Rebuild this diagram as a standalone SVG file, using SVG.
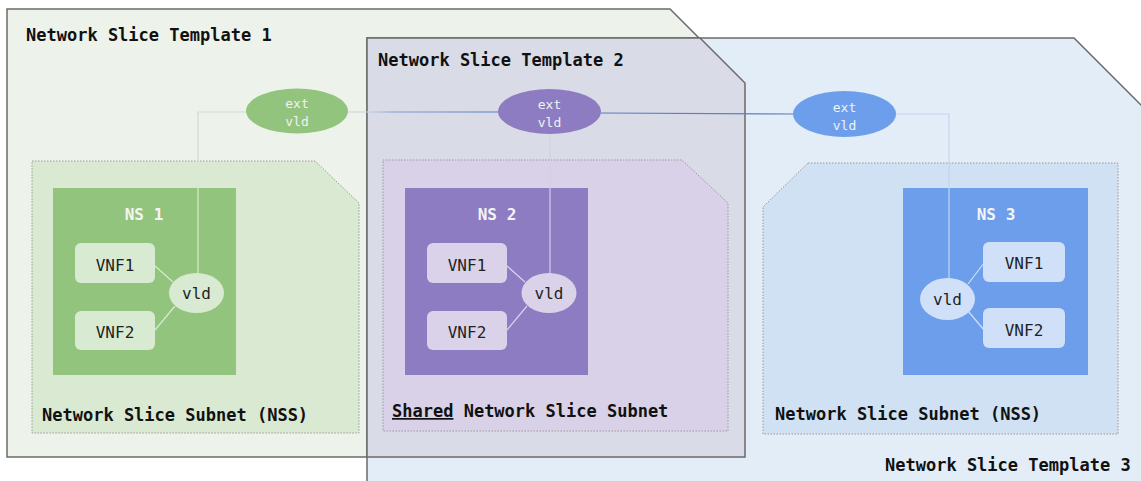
<svg xmlns="http://www.w3.org/2000/svg" width="1141" height="481" viewBox="0 0 1141 481">
<defs>
<style>
.tpl{stroke:#6b6b6b;stroke-width:1.5}
.nss{stroke:#9a9a9a;stroke-width:1;stroke-dasharray:1.5 1.5}
.title{font-family:"DejaVu Sans Mono","Liberation Mono",monospace;font-weight:bold;font-size:17px;fill:#111}
.nslbl{font-family:"DejaVu Sans Mono","Liberation Mono",monospace;font-weight:bold;font-size:16px;fill:#f4f4f4;text-anchor:middle}
.t{font-family:"DejaVu Sans Mono","Liberation Mono",monospace;font-size:16px;fill:#222;text-anchor:middle}
.ext{font-family:"DejaVu Sans Mono","Liberation Mono",monospace;font-size:13px;fill:#eef2f4;text-anchor:middle}
.ln{fill:none;stroke-width:1.2}
</style>
<linearGradient id="g12" gradientUnits="userSpaceOnUse" x1="348" y1="0" x2="498" y2="0">
<stop offset="0" stop-color="#cdd6dc"/>
<stop offset="0.14" stop-color="#c4cedc"/>
<stop offset="0.3" stop-color="#869dd0"/>
<stop offset="1" stop-color="#5b7ec4"/>
</linearGradient>
</defs>

<g id="template1">
<polygon class="tpl" fill="#edf3ea" points="7,9 670,9 745,84 745,457 7,457"/>
<text class="title" x="26" y="41">Network Slice Template 1</text>
</g>
<g id="template3">
<polygon class="tpl" fill="#e3edf8" points="367,38 1074,38 1142,106 1142,483 367,483"/>
<text class="title" x="885" y="471">Network Slice Template 3</text>
</g>
<g id="template2">
<polygon class="tpl" fill="#d9dbe6" points="367,38 700,38 745,83 745,457 367,457"/>
<text class="title" x="378" y="66">Network Slice Template 2</text>
</g>

<g id="nss1">
<polygon class="nss" fill="#d9e9d2" points="32,161 315,161 359,203 359,433 32,433"/>
<text class="title" x="42" y="421">Network Slice Subnet (NSS)</text>
</g>
<g id="nss2">
<polygon class="nss" fill="#d9d1e8" points="383,160 682,160 728,203 728,431 383,431"/>
<text class="title" x="392" y="417"><tspan text-decoration="underline">Shared</tspan> Network Slice Subnet</text>
</g>
<g id="nss3">
<polygon class="nss" fill="#cfe1f3" points="808,163 1118,163 1118,434 763,434 763,207"/>
<text class="title" x="775" y="420">Network Slice Subnet (NSS)</text>
</g>

<g id="ns1">
<rect x="53" y="188" width="183" height="187" fill="#93c47d"/>
<text class="nslbl" x="144" y="220">NS 1</text>
</g>
<g id="ns2">
<rect x="405" y="188" width="183" height="187" fill="#8e7cc3"/>
<text class="nslbl" x="497" y="220">NS 2</text>
</g>
<g id="ns3">
<rect x="903" y="188" width="185" height="187" fill="#6d9eeb"/>
<text class="nslbl" x="996" y="220">NS 3</text>
</g>

<g id="connectors">
<polyline class="ln" stroke="#cfdccb" points="246,112 198,112 198,161"/>
<line class="ln" stroke="#d9ead3" x1="198" y1="161" x2="198" y2="274"/>
<line class="ln" stroke="url(#g12)" x1="348" y1="112" x2="498" y2="112" stroke-width="1.5"/>
<line class="ln" stroke="#5b7ec4" x1="601" y1="113" x2="793" y2="114" stroke-width="1.5"/>
<line class="ln" stroke="#d2cfe4" x1="550" y1="134" x2="550" y2="274"/>
<polyline class="ln" stroke="#c4d6ee" points="896,114 949,114 949,279"/>
<line class="ln" stroke="#d9ead3" x1="155" y1="266" x2="173" y2="282"/>
<line class="ln" stroke="#d9ead3" x1="155" y1="330" x2="175" y2="306"/>
<line class="ln" stroke="#d9d2e9" x1="507" y1="266" x2="525" y2="282"/>
<line class="ln" stroke="#d9d2e9" x1="507" y1="330" x2="527" y2="306"/>
<line class="ln" stroke="#cfe0f8" x1="968" y1="284" x2="984" y2="263"/>
<line class="ln" stroke="#cfe0f8" x1="968" y1="311" x2="984" y2="330"/>
</g>

<g id="extvld1">
<ellipse cx="297" cy="111" rx="51" ry="22.5" fill="#93c47d"/>
<text class="ext" x="297" y="108">ext</text>
<text class="ext" x="297" y="126">vld</text>
</g>
<g id="extvld2">
<ellipse cx="549.5" cy="111.5" rx="51.5" ry="22.5" fill="#8e7cc3"/>
<text class="ext" x="549.5" y="109">ext</text>
<text class="ext" x="549.5" y="127">vld</text>
</g>
<g id="extvld3">
<ellipse cx="844.5" cy="114" rx="51.5" ry="23" fill="#6d9eeb"/>
<text class="ext" x="844.5" y="112">ext</text>
<text class="ext" x="844.5" y="130">vld</text>
</g>

<g id="ns1-vnf1">
<rect x="75" y="243" width="80" height="40" rx="6" fill="#d9ead3"/>
<text class="t" x="115" y="271">VNF1</text>
</g>
<g id="ns1-vnf2">
<rect x="75" y="311" width="80" height="39" rx="6" fill="#d9ead3"/>
<text class="t" x="115" y="338">VNF2</text>
</g>
<g id="ns1-vld">
<ellipse cx="196.5" cy="293" rx="27.5" ry="20" fill="#d9ead3"/>
<text class="t" x="196.5" y="299">vld</text>
</g>

<g id="ns2-vnf1">
<rect x="427" y="243" width="80" height="40" rx="6" fill="#d9d2e9"/>
<text class="t" x="467" y="271">VNF1</text>
</g>
<g id="ns2-vnf2">
<rect x="427" y="311" width="80" height="39" rx="6" fill="#d9d2e9"/>
<text class="t" x="467" y="338">VNF2</text>
</g>
<g id="ns2-vld">
<ellipse cx="549" cy="293" rx="27.5" ry="20" fill="#d9d2e9"/>
<text class="t" x="549" y="299">vld</text>
</g>

<g id="ns3-vnf1">
<rect x="983" y="242" width="82" height="40" rx="6" fill="#cfe0f8"/>
<text class="t" x="1024" y="269">VNF1</text>
</g>
<g id="ns3-vnf2">
<rect x="983" y="308" width="82" height="40" rx="6" fill="#cfe0f8"/>
<text class="t" x="1024" y="336">VNF2</text>
</g>
<g id="ns3-vld">
<ellipse cx="947.5" cy="299" rx="27.5" ry="21" fill="#cfe0f8"/>
<text class="t" x="947.5" y="305">vld</text>
</g>
</svg>
